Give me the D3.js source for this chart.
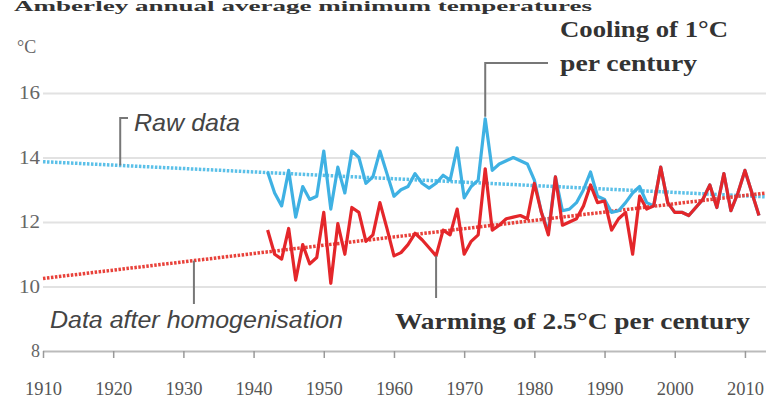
<!DOCTYPE html>
<html><head><meta charset="utf-8">
<script src="https://cdn.jsdelivr.net/npm/d3@7"></script>
<style>
html,body{margin:0;padding:0;background:#fff;}
svg{display:block;}
</style></head>
<body><svg id="c" width="771" height="410"></svg>
<script>
const years = d3.range(1942, 2013);
const rawValues = [
 13.55,12.9,12.5,13.6,12.15,13.1,12.7,12.8,14.2,12.4,
 13.7,12.9,14.2,14.0,13.2,13.4,14.2,13.5,12.8,13.0,
 13.1,13.5,13.2,13.05,13.2,13.45,13.3,14.3,12.75,13.1,
 13.3,15.2,13.6,13.8,13.9,14.0,13.9,13.8,13.3,12.3,
 11.7,13.4,12.35,12.4,12.6,13.0,13.55,12.8,12.7,12.3,
 12.35,12.6,12.9,13.1,12.6,12.5,13.7,12.6,12.3,12.3,
 12.2,12.45,12.7,13.15,12.45,13.5,12.35,12.9,13.6,12.9,
 12.2];
const homValues = [
 11.75,11.0,10.85,11.8,10.2,11.3,10.7,10.9,12.3,10.1,
 11.95,11.0,12.45,12.3,11.4,11.6,12.6,11.8,10.95,11.05,
 11.3,11.65,11.45,11.2,10.95,11.75,11.6,12.4,11.0,11.4,
 11.6,13.65,11.75,11.9,12.1,12.15,12.2,12.1,13.2,12.3,
 11.6,13.4,11.9,12.0,12.1,12.5,13.15,12.6,12.65,11.75,
 12.1,12.3,11.0,12.8,12.4,12.5,13.7,12.6,12.3,12.3,
 12.2,12.45,12.7,13.15,12.45,13.5,12.35,12.9,13.6,12.9,
 12.2];
const rawTrend = [[1910, 13.87], [2013, 12.78]];
const homTrend = [[1910, 10.25], [2013, 12.9]];
const yTicks = [8, 10, 12, 14, 16];
const xTicks = d3.range(1910, 2011, 10);
const title = "Amberley annual average minimum temperatures";

const svg = d3.select("#c");
const x = d3.scaleLinear().domain([1910, 2013]).range([43, 766]);
const y = d3.scaleLinear().domain([8, 16]).range([351, 93]);
const serif = "'Liberation Serif', 'DejaVu Serif', serif";

// title
svg.append("text").attr("x", 14).attr("y", 11).attr("font-family", serif)
  .attr("font-weight", "bold").attr("font-size", 14).attr("fill", "#333")
  .attr("textLength", 578).attr("lengthAdjust", "spacingAndGlyphs").text(title);

// gridlines
const gy = svg.append("g").attr("transform", `translate(${x(1910)},0)`)
  .call(d3.axisLeft(y).tickValues(yTicks).tickSize(-(x(2013) - x(1910))).tickFormat(d => d));
gy.select(".domain").remove();
gy.selectAll(".tick line").attr("stroke", d => d === 8 ? "#bbb" : "#e2e2e2").attr("stroke-width", 2);
gy.selectAll(".tick text").attr("x", -3).attr("fill", "#666").attr("font-family", serif)
  .attr("font-size", 18).attr("textLength", d => d < 10 ? 9 : 21).attr("lengthAdjust", "spacingAndGlyphs");

svg.append("text").attr("x", 17).attr("y", 53).attr("font-family", serif).attr("font-size", 18)
  .attr("fill", "#666").text("°C");

// x axis
const gx = svg.append("g").attr("transform", `translate(0,${y(8)})`)
  .call(d3.axisBottom(x).tickValues(xTicks).tickSize(7).tickPadding(24).tickFormat(d3.format("d")));
gx.select(".domain").remove();
gx.selectAll(".tick line").attr("stroke", "#999").attr("stroke-width", 1.5);
gx.selectAll(".tick text").attr("fill", "#555").attr("font-family", serif).attr("font-size", 18)
  .attr("textLength", 37).attr("lengthAdjust", "spacingAndGlyphs");

// trend lines
const tl = d3.line().x(d => x(d[0])).y(d => y(d[1]));
svg.append("path").attr("d", tl(rawTrend)).attr("fill", "none").attr("stroke", "#5bc0e8")
  .attr("stroke-width", 3.5).attr("stroke-dasharray", "2.5,1.5");
svg.append("path").attr("d", tl(homTrend)).attr("fill", "none").attr("stroke", "#e8413a")
  .attr("stroke-width", 3.5).attr("stroke-dasharray", "2.5,1.5");

// data lines
const line = d3.line().x((d, i) => x(years[i])).y(d => y(d));
svg.append("path").attr("d", line(rawValues)).attr("fill", "none").attr("stroke", "#3fb1e3")
  .attr("stroke-width", 3.2).attr("stroke-linejoin", "round");
svg.append("path").attr("d", line(homValues)).attr("fill", "none").attr("stroke", "#e4262a")
  .attr("stroke-width", 3.2).attr("stroke-linejoin", "round");

// annotations
const lead = "#777";
const pk = years[rawValues.indexOf(d3.max(rawValues))];
svg.append("path").attr("fill", "none").attr("stroke", lead).attr("stroke-width", 2)
  .attr("d", `M${x(pk)},${y(d3.max(rawValues)) - 2}V63H548`);
svg.append("text").attr("x", 560).attr("y", 37).attr("font-family", serif).attr("font-weight", "bold")
  .attr("font-size", 24).attr("fill", "#333").attr("textLength", 168).attr("lengthAdjust", "spacingAndGlyphs")
  .text("Cooling of 1°C");
svg.append("text").attr("x", 560).attr("y", 71).attr("font-family", serif).attr("font-weight", "bold")
  .attr("font-size", 24).attr("fill", "#333").attr("textLength", 137).attr("lengthAdjust", "spacingAndGlyphs")
  .text("per century");

const rawAt = yr => rawTrend[0][1] + (rawTrend[1][1] - rawTrend[0][1]) * (yr - rawTrend[0][0]) / (rawTrend[1][0] - rawTrend[0][0]);
const homAt = yr => homTrend[0][1] + (homTrend[1][1] - homTrend[0][1]) * (yr - homTrend[0][0]) / (homTrend[1][0] - homTrend[0][0]);
svg.append("path").attr("fill", "none").attr("stroke", lead).attr("stroke-width", 2)
  .attr("d", `M${x(1921)},${y(rawAt(1921))}V118H128`);
svg.append("text").attr("x", 134).attr("y", 131).attr("font-family", "'Liberation Sans', sans-serif")
  .attr("font-style", "italic").attr("font-size", 24).attr("fill", "#444")
  .attr("textLength", 106).attr("lengthAdjust", "spacingAndGlyphs").text("Raw data");

svg.append("path").attr("fill", "none").attr("stroke", lead).attr("stroke-width", 2)
  .attr("d", `M${x(1931.5)},${y(homAt(1931.5))}V304`);
svg.append("text").attr("x", 50).attr("y", 328).attr("font-family", "'Liberation Sans', sans-serif")
  .attr("font-style", "italic").attr("font-size", 23).attr("fill", "#444")
  .attr("textLength", 293).attr("lengthAdjust", "spacingAndGlyphs").text("Data after homogenisation");

svg.append("path").attr("fill", "none").attr("stroke", lead).attr("stroke-width", 2)
  .attr("d", `M${x(1966)},${y(homValues[years.indexOf(1966)])}V298`);
svg.append("text").attr("x", 395).attr("y", 329).attr("font-family", serif).attr("font-weight", "bold")
  .attr("font-size", 24).attr("fill", "#333").attr("textLength", 355).attr("lengthAdjust", "spacingAndGlyphs")
  .text("Warming of 2.5°C per century");
</script></body></html>
